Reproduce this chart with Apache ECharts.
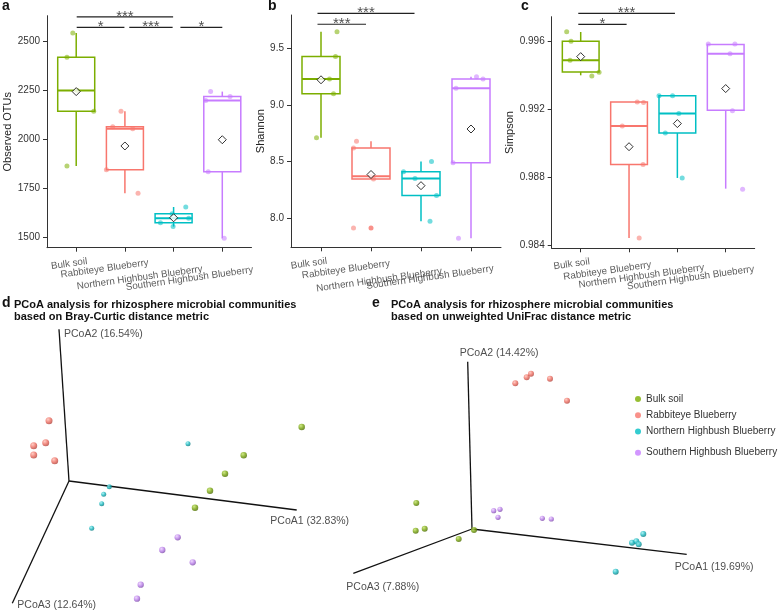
<!DOCTYPE html>
<html><head><meta charset="utf-8">
<script src="https://cdn.jsdelivr.net/npm/echarts@6/dist/echarts.min.js"></script>
<style>html,body{margin:0;padding:0;background:#fff}#c{width:778px;height:613px}</style>
</head><body><div id="c"></div>
<script>
const categories = ['Bulk soil','Rabbiteye Blueberry','Northern Highbush Blueberry','Southern Highbush Blueberry'];
const groupColors = ['#7CAE00','#F8766D','#00BFC4','#C77CFF'];
const sphereColors = [['#c4e36a','#76a30c','#4a6a00'],['#ffc0b6','#ec6c60','#b0423a'],['#9af0f3','#16b5bc','#07767b'],['#ecd0ff','#b87de8','#7a48a6']];

// Panel a: Observed OTUs — box stats [min, Q1, median, Q3, max]
const otuBox = [[1865,2145,2250,2420,2545],[1725,1845,2055,2065,2145],[1555,1575,1597,1620,1655],[1495,1835,2200,2220,2245]];
const otuMean = [2245,1967,1600,1999];
const otuPoints = [
  [[-0.07,2545],[-0.19,2420],[0.02,2250],[0.36,2145],[-0.19,1865]],
  [[-0.08,2145],[-0.25,2065],[0.16,2055],[-0.38,1845],[0.27,1725]],
  [[0.25,1655],[-0.03,1620],[0.31,1597],[-0.27,1575],[-0.01,1555]],
  [[-0.24,2245],[0.16,2220],[-0.34,2200],[-0.29,1835],[0.04,1495]]
];
const otuOutliers = [];
const otuTicks = [1500,1750,2000,2250,2500];
const otuSig = [[0.01,1.99,2627,'***'],[0.01,0.99,2573,'*'],[1.09,1.98,2573,'***'],[2.14,3.0,2573,'*']];

// Panel b: Shannon
const shannonBox = [[8.71,9.10,9.23,9.43,9.65],[8.345,8.345,8.37,8.62,8.68],[7.97,8.20,8.35,8.41,8.50],[7.82,8.49,9.15,9.23,9.25]];
const shannonMean = [9.224,8.385,8.286,8.788];
const shannonPoints = [
  [[0.32,9.65],[0.29,9.43],[0.17,9.23],[0.25,9.10],[-0.09,8.71]],
  [[-0.29,8.68],[-0.35,8.62],[0.0,8.37],[0.05,8.345],[-0.35,7.91]],
  [[0.21,8.50],[-0.35,8.41],[-0.12,8.35],[0.31,8.20],[0.18,7.97]],
  [[0.11,9.25],[0.24,9.23],[-0.30,9.15],[-0.36,8.49],[-0.25,7.82]]
];
const shannonOutliers = [[1,7.91]];
const shannonTicks = [8.0,8.5,9.0,9.5];
const shannonSig = [[-0.07,1.87,9.813,'***'],[-0.07,0.9,9.716,'***']];

// Panel c: Simpson
const simpsonBox = [[0.9940,0.9942,0.99488,0.9960,0.99655],[0.98442,0.98875,0.99102,0.99243,0.99243],[0.98796,0.99061,0.99175,0.9928,0.9928],[0.98733,0.99194,0.99527,0.99582,0.99582]];
const simpsonMean = [0.9951,0.9898,0.99116,0.99322];
const simpsonPoints = [
  [[-0.29,0.99657],[-0.20,0.9960],[-0.22,0.99488],[0.38,0.99418],[0.23,0.99396]],
  [[0.17,0.99243],[0.30,0.99240],[-0.14,0.99102],[0.29,0.98875],[0.21,0.98442]],
  [[-0.38,0.9928],[-0.10,0.9928],[0.03,0.99175],[-0.25,0.99061],[0.10,0.98796]],
  [[-0.36,0.99585],[0.19,0.99585],[0.09,0.99527],[0.14,0.99192],[0.35,0.98729]]
];
const simpsonOutliers = [];
const simpsonTicks = [0.984,0.988,0.992,0.996];
const simpsonSig = [[-0.05,1.95,0.997647,'***'],[-0.05,0.95,0.997,'*']];

// Panel d: PCoA (Bray-Curtis), projected coordinates
const pcoaDAxisNames = ['PCoA1 (32.83%)','PCoA2 (16.54%)','PCoA3 (12.64%)'];
const pcoaDAxisEnds = [[227.7,-29],[-10,151.7],[-56.7,-122.3]];
const pcoaDPoints = [
  [[232.7,54],[174.7,25.7],[156,7.3],[141,-9.7],[126,-26.7]],
  [[-20,60.3],[-23.3,38.3],[-35.3,35.3],[-35.3,26],[-14.3,20.3]],
  [[119,37.3],[40.3,-5.7],[34.7,-13.3],[32.7,-22.7],[22.7,-47.3]],
  [[108.7,-56.3],[93.3,-69],[123.7,-81.3],[71.7,-103.7],[68,-117.7]]
];
// Panel e: PCoA (unweighted UniFrac), projected coordinates
const pcoaEAxisNames = ['PCoA1 (19.69%)','PCoA2 (14.42%)','PCoA3 (7.88%)'];
const pcoaEAxisEnds = [[214.7,-25.3],[-4.3,167.3],[-118.7,-44.3]];
const pcoaEPoints = [
  [[-55.7,26],[-56.3,-1.7],[-47.3,0.3],[-13.3,-10],[2,-1]],
  [[43.3,145.7],[54.7,151.7],[59,155.3],[78,150.3],[95,128.3]],
  [[171.3,-5],[160,-13.7],[164.3,-12.3],[166.7,-15.3],[143.7,-42.7]],
  [[21.7,18.3],[28,19.7],[26,11.7],[70.3,10.7],[79.3,10]]
];

const FONT = 'Liberation Sans, Arial, Helvetica, sans-serif';
const AX = '#333';

const grids = [
  {left:47, top:15.7, width:204.5, height:232},
  {left:291, top:15, width:210, height:232.3},
  {left:551.7, top:16.7, width:203, height:231.6},
  {left:9, top:321, width:320, height:290},
  {left:332, top:321, width:440, height:290}
];

function boxXAxis(p) {
  return {type:'value', gridIndex:p, min:-0.6, max:3.6, splitLine:{show:false},
    axisLine:{show:true, onZero:false, lineStyle:{color:AX, width:1}},
    axisTick:{show:true, customValues:[0,1,2,3], length:4, lineStyle:{color:AX}},
    axisLabel:{show:false}
  };
}
function boxYAxis(p, min, max, ticks, name, gap, fmt) {
  return {type:'value', gridIndex:p, min, max, splitLine:{show:false},
    axisLine:{show:true, onZero:false, lineStyle:{color:AX, width:1}},
    axisTick:{show:true, customValues:ticks, length:4, lineStyle:{color:AX}},
    axisLabel:{customValues:ticks, fontSize:10, color:AX, margin:7, fontFamily:FONT, formatter:fmt},
    name, nameLocation:'middle', nameGap:gap, nameTextStyle:{fontSize:11, color:'#222', fontFamily:FONT}
  };
}
function hiddenAxis(p, min, max) {
  return {type:'value', gridIndex:p, min, max, show:false, splitLine:{show:false}};
}

const series = [];
function addBoxPanel(p, box, mean, pts, outl, sig, yMin, labelOffsets) {
  series.push({type:'custom', xAxisIndex:p, yAxisIndex:p, clip:false, silent:true, z:2,
    encode:{x:0, y:[1,2,3,4,5]},
    data: box.map((b,i)=>[i, b[0], b[1], b[2], b[3], b[4], i]),
    renderItem: (params, api) => {
      const x = api.value(0);
      const c = groupColors[api.value(6)];
      const pMin = api.coord([x, api.value(1)]), pQ1 = api.coord([x, api.value(2)]),
            pMd = api.coord([x, api.value(3)]), pQ3 = api.coord([x, api.value(4)]),
            pMx = api.coord([x, api.value(5)]);
      const hw = api.size([0.76, 0])[0] / 2;
      const cx = pQ1[0];
      const st = {stroke:c, lineWidth:1.5, fill:null};
      return {type:'group', children:[
        {type:'line', shape:{x1:cx, y1:pQ3[1], x2:cx, y2:pMx[1]}, style:st},
        {type:'line', shape:{x1:cx, y1:pQ1[1], x2:cx, y2:pMin[1]}, style:st},
        {type:'rect', shape:{x:cx-hw, y:pQ3[1], width:2*hw, height:pQ1[1]-pQ3[1]}, style:{stroke:c, lineWidth:1.5, fill:'#fff'}},
        {type:'line', shape:{x1:cx-hw, y1:pMd[1], x2:cx+hw, y2:pMd[1]}, style:{stroke:c, lineWidth:2}}
      ]};
    }
  });
  if (outl.length) {
    series.push({type:'scatter', xAxisIndex:p, yAxisIndex:p, symbolSize:5, silent:true, z:3,
      data: outl.map(([g,v])=>({value:[g,v], itemStyle:{color:groupColors[g]}}))});
  }
  const jd = [];
  pts.forEach((grp,i)=>grp.forEach(([dx,v])=>jd.push({value:[i+dx, v], itemStyle:{color:groupColors[i], opacity:0.55}})));
  series.push({type:'scatter', xAxisIndex:p, yAxisIndex:p, symbolSize:5, silent:true, z:3, data:jd});
  series.push({type:'scatter', xAxisIndex:p, yAxisIndex:p, symbol:'diamond', symbolSize:8, silent:true, z:4,
    itemStyle:{color:'#fff', borderColor:'#000', borderWidth:1}, data: mean.map((m,i)=>[i,m])});
  sig.forEach(([x1,x2,y])=>series.push({type:'line', xAxisIndex:p, yAxisIndex:p, data:[[x1,y],[x2,y]], symbol:'none', clip:false, silent:true, z:5,
    lineStyle:{color:'#222', width:1.2}}));
  series.push({type:'scatter', xAxisIndex:p, yAxisIndex:p, symbolSize:0, clip:false, silent:true, z:5,
    data: sig.map(([x1,x2,y,t])=>[(x1+x2)/2, y, t]),
    label:{show:true, position:'top', distance:0, offset:[0,7], formatter: q=>q.value[2], fontSize:15, color:'#222', fontFamily:FONT}});
  // category labels under the axis
  series.push({type:'scatter', xAxisIndex:p, yAxisIndex:p, symbolSize:0, clip:false, silent:true, z:5,
    data: categories.map((c,i)=>({name:c, value:[i, yMin], label:{offset:labelOffsets[i]}})),
    label:{show:true, position:'inside', align:'center', verticalAlign:'middle', rotate:8, formatter:'{b}', fontSize:9.8, color:AX, fontFamily:FONT}});
}
const labOffA = [[-9.3,15],[-23,18],[-37.7,25],[-36.8,26]];
const labOffB = [[-14.2,14.4],[-27.9,18.5],[-46,26.5],[-44.8,24]];
const labOffC = [[-11.2,14.4],[-24.6,19.4],[-39.5,22.7],[-38.8,24.5]];
addBoxPanel(0, otuBox, otuMean, otuPoints, otuOutliers, otuSig, 1447, labOffA);
addBoxPanel(1, shannonBox, shannonMean, shannonPoints, shannonOutliers, shannonSig, 7.74, labOffB);
addBoxPanel(2, simpsonBox, simpsonMean, simpsonPoints, simpsonOutliers, simpsonSig, 0.98382, labOffC);

function sphere(i) {
  const s = sphereColors[i];
  return {type:'radial', x:0.36, y:0.32, r:0.72, colorStops:[{offset:0,color:s[0]},{offset:0.55,color:s[1]},{offset:1,color:s[2]}]};
}
function addPcoa(p, ends, names, pts, sizes, labelStyles) {
  ends.forEach(e=>series.push({type:'line', xAxisIndex:p, yAxisIndex:p, data:[[0,0], e], symbol:'none', silent:true, clip:false, z:1,
    lineStyle:{color:'#111', width:1.3}}));
  series.push({type:'scatter', xAxisIndex:p, yAxisIndex:p, symbolSize:0, silent:true, clip:false, z:1,
    data: ends.map((e,k)=>({name:names[k], value:e, label:Object.assign({show:true, position:'inside', verticalAlign:'middle', formatter:'{b}', fontSize:10.5, color:'#222', fontFamily:FONT}, labelStyles[k])}))});
  pts.forEach((grp,i)=>series.push({type:'scatter', name:categories[i], xAxisIndex:p, yAxisIndex:p, symbolSize:sizes[i], silent:true, clip:false, z:3,
    itemStyle:{color:sphere(i)}, data:grp}));
}
addPcoa(3, pcoaDAxisEnds, pcoaDAxisNames, pcoaDPoints, [6.5,7,5,6.3],
  [{align:'center', offset:[13,11]},{align:'left', offset:[5,5]},{align:'left', offset:[5,2]}]);
addPcoa(4, pcoaEAxisEnds, pcoaEAxisNames, pcoaEPoints, [6,6,6,5.2],
  [{align:'left', offset:[-12,12.4]},{align:'left', offset:[-8,-8.4]},{align:'left', offset:[-7,13.4]}]);

const legendData = categories.map((n,i)=>({name:n, itemStyle:{color:groupColors[i]}}));
const legendBase = {orient:'vertical', left:635, itemWidth:6, itemHeight:6, itemGap:4.3, icon:'circle', selectedMode:false, padding:0,
  textStyle:{fontSize:10, color:'#333', lineHeight:12, fontFamily:FONT}};

const titleStyle = {font:'bold 11px '+FONT, fill:'#111', lineHeight:12};
const letterStyle = {font:'bold 14px '+FONT, fill:'#111'};

const option = {
  animation:false,
  backgroundColor:'#fff',
  textStyle:{fontFamily:FONT},
  grid: grids,
  xAxis: [boxXAxis(0), boxXAxis(1), boxXAxis(2), hiddenAxis(3,-60,260), hiddenAxis(4,-140,300)],
  yAxis: [
    boxYAxis(0,1447,2633,otuTicks,'Observed OTUs',33,v=>String(v)),
    boxYAxis(1,7.74,9.798,shannonTicks,'Shannon',24,v=>v.toFixed(1)),
    boxYAxis(2,0.98382,0.99745,simpsonTicks,'Simpson',31,v=>v.toFixed(3)),
    hiddenAxis(3,-130,160), hiddenAxis(4,-82,208)
  ],
  legend: [
    Object.assign({}, legendBase, {top:393, data:legendData.slice(0,3)}),
    Object.assign({}, legendBase, {top:446.7, data:legendData.slice(3)})
  ],
  graphic: [
    {type:'text', x:2, y:6, style:Object.assign({text:'a', verticalAlign:'middle'}, letterStyle)},
    {type:'text', x:268, y:6, style:Object.assign({text:'b', verticalAlign:'middle'}, letterStyle)},
    {type:'text', x:521, y:6, style:Object.assign({text:'c', verticalAlign:'middle'}, letterStyle)},
    {type:'text', x:2, y:303.5, style:Object.assign({text:'d', verticalAlign:'middle'}, letterStyle)},
    {type:'text', x:372, y:303.5, style:Object.assign({text:'e', verticalAlign:'middle'}, letterStyle)},
    {type:'text', x:14, y:298.5, style:Object.assign({text:'PCoA analysis for rhizosphere microbial communities\nbased on Bray-Curtic distance metric', verticalAlign:'top'}, titleStyle)},
    {type:'text', x:391, y:298.5, style:Object.assign({text:'PCoA analysis for rhizosphere microbial communities\nbased on unweighted UniFrac distance metric', verticalAlign:'top'}, titleStyle)}
  ],
  series
};
const chart = echarts.init(document.getElementById('c'), null, {renderer:'canvas', width:778, height:613});
chart.setOption(option);
</script>
</body></html>
